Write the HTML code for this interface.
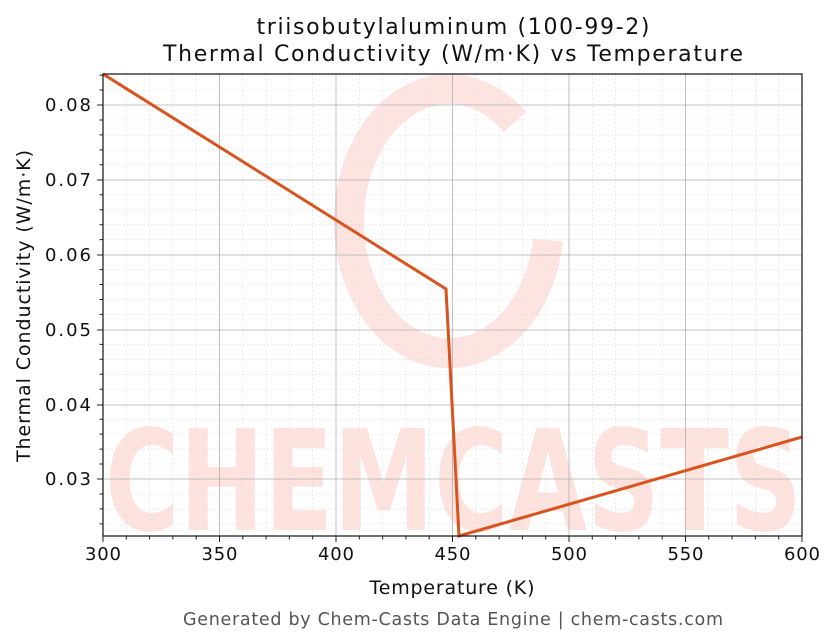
<!DOCTYPE html>
<html><head><meta charset="utf-8"><style>body{margin:0;background:#fff}svg{display:block}</style></head>
<body>
<svg width="836" height="644" viewBox="0 0 836 644" xmlns="http://www.w3.org/2000/svg" font-family="'DejaVu Sans','Liberation Sans',sans-serif">
<rect width="836" height="644" fill="#fff"/>
<g>
<path d="M 515 122 A 100 132 0 1 0 548 240" fill="none" stroke="#fde4e0" stroke-width="30"/>
<text x="105" y="530" font-size="140" font-weight="bold" fill="#fde2de" textLength="697" lengthAdjust="spacingAndGlyphs" font-family="'DejaVu Sans',sans-serif">CHEMCASTS</text>
</g>
<g stroke="#dddddd" stroke-width="0.6" stroke-dasharray="2,2">
<path id="minor"/>
</g>
<script>
(function(){var d="";
for(var t=310;t<600;t+=10){if(t%50==0)continue;var x=103+(t-300)*699/300;d+="M"+x.toFixed(1)+" 74V536";}
for(var i=22;i<=84;i+=2){if(i%10==0)continue;var y=105+(0.08-i/1000)*7480;d+="M103 "+y.toFixed(1)+"H802";}
document.getElementById("minor").setAttribute("d",d);})();
</script>
<g stroke="#b0b0b0" stroke-width="0.8">
<path d="M219.5 74V536M336 74V536M452.5 74V536M569 74V536M685.5 74V536"/>
<path d="M103 105H802M103 180H802M103 255H802M103 330H802M103 405H802M103 479H802"/>
</g>
<polyline points="103,74 446,289 459,536 802,437" fill="none" stroke="#d9531e" stroke-width="3" stroke-linejoin="miter"/>
<rect x="103" y="74" width="699" height="462" fill="none" stroke="#222" stroke-width="1.3"/>
<g stroke="#222" stroke-width="1">
<path d="M103 536v6M219.5 536v6M336 536v6M452.5 536v6M569 536v6M685.5 536v6M802 536v6"/>
<path d="M103 105h-6M103 180h-6M103 255h-6M103 330h-6M103 405h-6M103 479h-6"/>
<path id="mt"/>
</g>
<script>
(function(){var d="";
for(var t=310;t<600;t+=10){if(t%50==0)continue;var x=103+(t-300)*699/300;d+="M"+x.toFixed(1)+" 536v3.5";}
for(var i=24;i<=84;i+=2){if(i%10==0)continue;var y=105+(0.08-i/1000)*7480;d+="M103 "+y.toFixed(1)+"h-3.5";}
document.getElementById("mt").setAttribute("d",d);})();
</script>
<g font-size="18" fill="#111" text-anchor="middle">
<text x="103" y="560" textLength="36">300</text><text x="219.5" y="560" textLength="36">350</text><text x="336" y="560" textLength="36">400</text><text x="452.5" y="560" textLength="36">450</text><text x="569" y="560" textLength="36">500</text><text x="685.5" y="560" textLength="36">550</text><text x="802" y="560" textLength="36">600</text>
</g>
<g font-size="18" fill="#111" text-anchor="end">
<text x="91" y="111" textLength="46">0.08</text><text x="91" y="186" textLength="46">0.07</text><text x="91" y="261" textLength="46">0.06</text><text x="91" y="336" textLength="46">0.05</text><text x="91" y="411" textLength="46">0.04</text><text x="91" y="485" textLength="46">0.03</text>
</g>
<text x="452" y="594" font-size="19" text-anchor="middle" fill="#111" textLength="165">Temperature (K)</text>
<text transform="translate(30,306) rotate(-90)" font-size="19" text-anchor="middle" fill="#111" textLength="312">Thermal Conductivity (W/m·K)</text>
<text x="453" y="34" font-size="22" text-anchor="middle" fill="#111" textLength="393">triisobutylaluminum (100-99-2)</text>
<text x="453" y="61" font-size="22" text-anchor="middle" fill="#111" textLength="580">Thermal Conductivity (W/m·K) vs Temperature</text>
<text x="453" y="625" font-size="17.5" text-anchor="middle" fill="#555" textLength="540">Generated by Chem-Casts Data Engine | chem-casts.com</text>
</svg>
</body></html>
